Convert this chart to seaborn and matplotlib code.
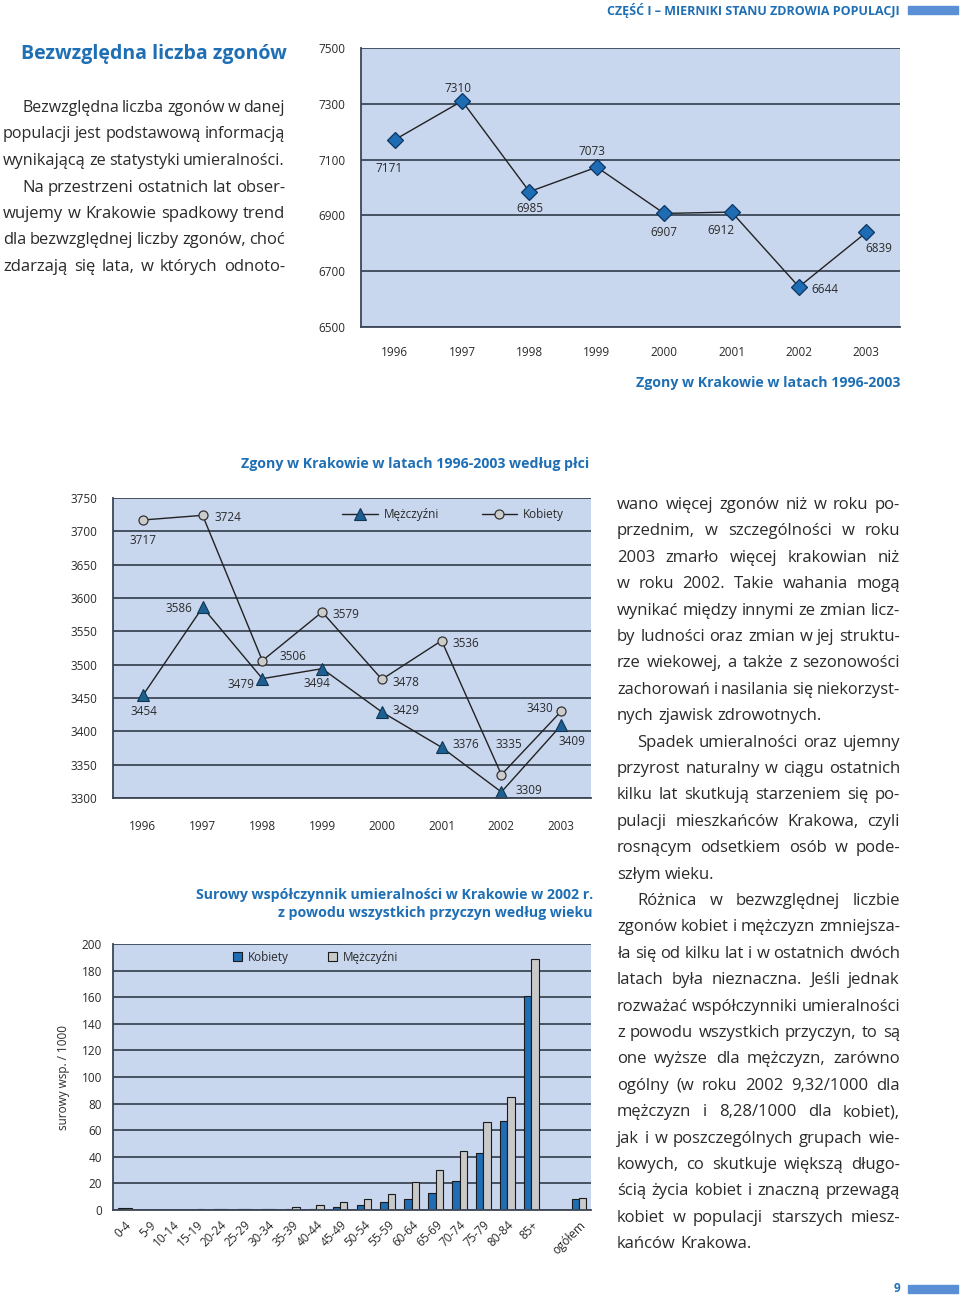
import matplotlib
matplotlib.use("Agg")
import matplotlib.pyplot as plt
import numpy as np
import pandas as pd
import seaborn as sns
from matplotlib.patches import Rectangle

W, H = 960, 1298

# --- data ---------------------------------------------------------------
years = ["1996", "1997", "1998", "1999", "2000", "2001", "2002", "2003"]
deaths_total = [7171, 7310, 6985, 7073, 6907, 6912, 6644, 6839]
deaths_men = [3454, 3586, 3479, 3494, 3429, 3376, 3309, 3409]
deaths_women = [3717, 3724, 3506, 3579, 3478, 3536, 3335, 3430]

age_groups = ["0-4", "5-9", "10-14", "15-19", "20-24", "25-29", "30-34", "35-39",
              "40-44", "45-49", "50-54", "55-59", "60-64", "65-69", "70-74",
              "75-79", "80-84", "85+", "ogółem"]
rate_women = [1.8, 0.1, 0.1, 0.3, 0.5, 0.5, 0.5, 0.8, 1.0, 2.5, 3.5, 6.0,
              8.0, 13.0, 22.0, 43.0, 67.0, 161.0, 8.28]
rate_men = [1.8, 0.2, 0.2, 0.6, 0.9, 0.9, 0.9, 2.0, 3.5, 6.0, 8.5, 12.0,
            21.0, 30.0, 44.0, 66.0, 85.0, 189.0, 9.32]
bar_order = age_groups[:-1] + [""] + age_groups[-1:]

left_text = [
    "Bezwzględna liczba zgonów w danej",
    "populacji jest podstawową informacją",
    "wynikającą ze statystyki umieralności.",
    "Na przestrzeni ostatnich lat obser-",
    "wujemy w Krakowie spadkowy trend",
    "dla bezwzględnej liczby zgonów, choć",
    "zdarzają się lata, w których odnoto-",
]
right_text = [
    "wano więcej zgonów niż w roku po-",
    "przednim,  w szczególności  w roku",
    "2003 zmarło więcej krakowian niż",
    "w roku 2002. Takie wahania mogą",
    "wynikać między innymi ze zmian licz-",
    "by ludności oraz zmian w jej struktu-",
    "rze wiekowej, a także z sezonowości",
    "zachorowań i nasilania się niekorzyst-",
    "nych zjawisk zdrowotnych.",
    "Spadek umieralności oraz ujemny",
    "przyrost naturalny w ciągu ostatnich",
    "kilku lat skutkują starzeniem się po-",
    "pulacji mieszkańców Krakowa, czyli",
    "rosnącym odsetkiem osób w pode-",
    "szłym wieku.",
    "Różnica w bezwzględnej liczbie",
    "zgonów kobiet i mężczyzn zmniejsza-",
    "ła się od kilku lat i w ostatnich dwóch",
    "latach była nieznaczna. Jeśli jednak",
    "rozważać współczynniki umieralności",
    "z powodu wszystkich przyczyn, to są",
    "one wyższe dla mężczyzn, zarówno",
    "ogólny (w roku 2002 9,32/1000 dla",
    "mężczyzn i 8,28/1000 dla kobiet),",
    "jak i w poszczególnych grupach wie-",
    "kowych, co skutkuje większą długo-",
    "ścią życia kobiet i znaczną przewagą",
    "kobiet w populacji starszych miesz-",
    "kańców Krakowa.",
]
left_indent = [0, 3]
right_indent = [9, 15]
right_ragged = [8, 14, 28]

# label offsets in pixels (dx right, dy down)
off_total = [(-6, 29), (-4, -13), (0, 17), (-5, -16), (0, 19), (-11, 18), (26, 3), (12, 16)]
off_men = [(1, 16), (-24, 1), (-21, 6), (-5, 15), (24, -2), (24, -3), (27, -2), (11, 16)]
off_women = [(0, 21), (25, 2), (31, -4), (24, 3), (24, 3), (24, 3), (7, -30), (-21, -3)]

# --- style --------------------------------------------------------------
BLUE_TXT = "#1f6fb5"
BG = "#c8d6ee"
GRID = "#3c4656"
TXT = "#2a2a2a"
FONT = ["Open Sans", "DejaVu Sans"]
BODY_FS = 12.0

sns.set_style("white")
plt.rcParams["font.family"] = FONT

fig = plt.figure(figsize=(W / 100, H / 100), dpi=100)
renderer = fig.canvas.get_renderer()


def px_axes(x0, y0, x1, y1):
    return fig.add_axes([x0 / W, 1 - y1 / H, (x1 - x0) / W, (y1 - y0) / H])


def style_axes(ax, ypad):
    ax.set_facecolor(BG)
    ax.grid(axis="y", color=GRID, linewidth=1.3)
    ax.grid(axis="x", visible=False)
    ax.set_axisbelow(True)
    for s in ["top", "right"]:
        ax.spines[s].set_visible(False)
    for s in ["left", "bottom"]:
        ax.spines[s].set_color(GRID)
        ax.spines[s].set_linewidth(1.3)
    ax.tick_params(axis="y", length=3, color=GRID, labelsize=8.5, pad=ypad, labelcolor=TXT)
    ax.set_xlabel("")
    ax.set_ylabel("")


def label_points(ax, values, offsets):
    for i, (v, (dx, dy)) in enumerate(zip(values, offsets)):
        ax.annotate(str(v), (i, v), xytext=(dx, -dy), textcoords="offset pixels",
                    ha="center", va="center", fontsize=8.5, color=TXT)


# --- chart 1: total deaths ------------------------------------------------
ax1 = px_axes(361, 48, 900, 327)
sns.lineplot(x=years, y=deaths_total, ax=ax1, color="#222222", linewidth=1.0,
             marker="D", markersize=8, markerfacecolor="#1e6cb3",
             markeredgecolor="#0d3560", markeredgewidth=0.9, errorbar=None)
ax1.set_ylim(6500, 7500)
ax1.set_yticks(range(6500, 7501, 200))
ax1.set_xlim(-0.5, 7.5)
ax1.set_xticks(range(8))
ax1.set_xticklabels(years)
ax1.set_xticks(np.arange(-0.5, 8, 1), minor=True)
style_axes(ax1, 8)
ax1.tick_params(axis="x", which="major", length=0, pad=14, labelsize=8.5, labelcolor=TXT)
ax1.tick_params(axis="x", which="minor", length=5, color=GRID, width=1.2)
label_points(ax1, deaths_total, off_total)

# --- chart 2: deaths by sex ----------------------------------------------
ax2 = px_axes(113, 498, 591, 798)
sns.lineplot(x=years, y=deaths_men, ax=ax2, color="#222222", linewidth=1.0,
             marker="^", markersize=8, markerfacecolor="#1d5f92",
             markeredgecolor="#0f3550", markeredgewidth=0.8, errorbar=None,
             label="Mężczyźni")
sns.lineplot(x=years, y=deaths_women, ax=ax2, color="#222222", linewidth=1.0,
             marker="o", markersize=6.5, markerfacecolor="#cccccc",
             markeredgecolor="#333333", markeredgewidth=0.9, errorbar=None,
             label="Kobiety")
ax2.set_ylim(3300, 3750)
ax2.set_yticks(range(3300, 3751, 50))
ax2.set_xlim(-0.5, 7.5)
ax2.set_xticks(range(8))
ax2.set_xticklabels(years)
ax2.set_xticks(np.arange(-0.5, 8, 1), minor=True)
style_axes(ax2, 8)
ax2.tick_params(axis="x", which="major", length=0, pad=16, labelsize=8.5, labelcolor=TXT)
ax2.tick_params(axis="x", which="minor", length=5, color=GRID, width=1.2)
ax2.legend(loc="center left", bbox_to_anchor=(0.48, 0.945), ncol=2, frameon=False,
           fontsize=8.5, handlelength=3.0, columnspacing=3.6, handletextpad=0.5,
           borderpad=0, borderaxespad=0, labelcolor=TXT)
label_points(ax2, deaths_men, off_men)
label_points(ax2, deaths_women, off_women)

# --- chart 3: crude mortality rate by age ---------------------------------
rates = pd.DataFrame({
    "grupa": age_groups * 2,
    "wsp": rate_women + rate_men,
    "plec": ["Kobiety"] * len(age_groups) + ["Mężczyźni"] * len(age_groups),
})
ax3 = px_axes(113, 944, 591, 1210)
sns.barplot(data=rates, x="grupa", y="wsp", hue="plec", order=bar_order,
            hue_order=["Kobiety", "Mężczyźni"],
            palette={"Kobiety": "#1f6db4", "Mężczyźni": "#c9c9c9"},
            saturation=1, width=0.62, edgecolor="#1a1a1a", linewidth=0.8, ax=ax3)
ax3.set_ylim(0, 200)
ax3.set_yticks(range(0, 201, 20))
style_axes(ax3, 5)
ax3.tick_params(axis="x", length=0, pad=6, labelsize=8.5, labelcolor=TXT)
for t in ax3.get_xticklabels():
    t.set_rotation(45)
    t.set_ha("right")
    t.set_rotation_mode("anchor")
ax3.set_ylabel("surowy wsp. / 1000", fontsize=8.5, color=TXT, labelpad=8)
sns.move_legend(ax3, loc="center left", bbox_to_anchor=(0.25, 0.951), ncol=2,
                frameon=False, title=None, fontsize=8.5, handlelength=0.8,
                handleheight=0.8, columnspacing=3.3, handletextpad=0.5,
                borderpad=0, borderaxespad=0, labelcolor=TXT)

# --- page text ------------------------------------------------------------
def fx(x):
    return x / W


def fy(y):
    return 1 - y / H


def put_line(text, x0, x1, y, justify, fs=BODY_FS):
    words = text.split()
    # shrink the line a little if the words would not fit with a minimal gap
    while True:
        objs = [fig.text(0, 0, w, fontsize=fs, color=TXT, va="baseline") for w in words]
        widths = [o.get_window_extent(renderer).width for o in objs]
        probe = fig.text(0, 0, "a a", fontsize=fs)
        probe2 = fig.text(0, 0, "aa", fontsize=fs)
        space = probe.get_window_extent(renderer).width - probe2.get_window_extent(renderer).width
        probe.remove()
        probe2.remove()
        need = sum(widths) + 0.75 * space * (len(words) - 1)
        if not justify or need <= x1 - x0 or fs < 10:
            break
        for o in objs:
            o.remove()
        fs -= 0.1
    if justify and len(words) > 1:
        gap = (x1 - x0 - sum(widths)) / (len(words) - 1)
    else:
        gap = space
    x = x0
    for o, w in zip(objs, widths):
        o.set_position((fx(x), fy(y)))
        x += w + gap


for i, line in enumerate(left_text):
    x0 = 22 if i in left_indent else 3
    put_line(line, x0, 285, 112 + i * 26.5, True)

for i, line in enumerate(right_text):
    x0 = 637 if i in right_indent else 617
    put_line(line, x0, 900, 509 + i * 26.4, i not in right_ragged)

TITLE_FS = 10.2
fig.text(fx(21), fy(54), "Bezwzględna liczba zgonów", fontsize=14, fontweight="bold",
         color=BLUE_TXT, va="center", ha="left")
fig.text(fx(900), fy(10), "CZĘŚĆ I – MIERNIKI STANU ZDROWIA POPULACJI", fontsize=9,
         fontweight="bold", color=BLUE_TXT, va="center", ha="right")
fig.text(fx(900), fy(383), "Zgony w Krakowie w latach 1996-2003", fontsize=TITLE_FS,
         fontweight="bold", color=BLUE_TXT, va="center", ha="right")
fig.text(fx(415), fy(464), "Zgony w Krakowie w latach 1996-2003 według płci", fontsize=TITLE_FS,
         fontweight="bold", color=BLUE_TXT, va="center", ha="center")
fig.text(fx(593), fy(895), "Surowy współczynnik umieralności w Krakowie w 2002 r.",
         fontsize=TITLE_FS, fontweight="bold", color=BLUE_TXT, va="center", ha="right")
fig.text(fx(593), fy(913), "z powodu wszystkich przyczyn według wieku",
         fontsize=TITLE_FS, fontweight="bold", color=BLUE_TXT, va="center", ha="right")
fig.text(fx(897), fy(1289), "9", fontsize=8.5, fontweight="bold", color=BLUE_TXT,
         va="center", ha="center")

for y0 in (6, 1285):
    fig.patches.append(Rectangle((fx(908), fy(y0 + 8)), 50 / W, 8 / H,
                                 transform=fig.transFigure, color="#5a8fd6"))

fig.savefig("out.png", dpi=100, facecolor="white")
